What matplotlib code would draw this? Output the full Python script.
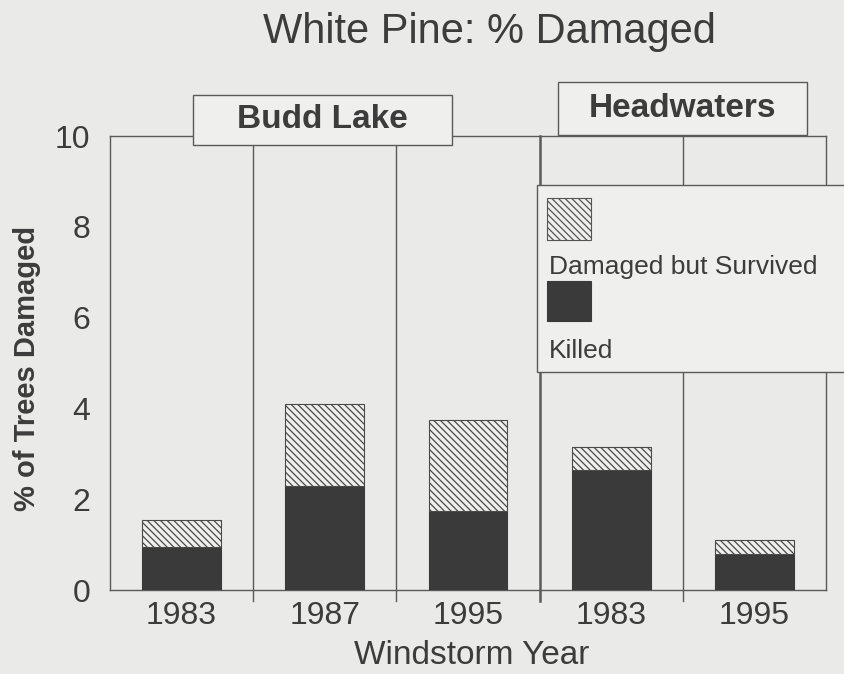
import matplotlib
matplotlib.use("Agg")
import matplotlib.pyplot as plt
from matplotlib.patches import Rectangle

plt.rcParams['font.family'] = ['Liberation Sans', 'DejaVu Sans']
plt.rcParams['hatch.linewidth'] = 0.9

years = ["1983", "1987", "1995", "1983", "1995"]
groups = ["Budd Lake", "Headwaters"]
killed = [0.95, 2.3, 1.75, 2.65, 0.8]
total = [1.55, 4.1, 3.75, 3.15, 1.1]
survived = [t - k for t, k in zip(total, killed)]
yticks = [0, 2, 4, 6, 8, 10]

BG = '#eaeae8'
BOXBG = '#efefed'
DARK = '#3a3a3a'
TXT = '#3c3c3c'
LINE = '#5a5a5a'
HATCH = '\\\\\\\\\\'
W, H = 844.0, 674.0

fig = plt.figure(figsize=(8.44, 6.74), dpi=100, facecolor=BG)
ax = fig.add_axes([110 / W, 1 - 590 / H, (826 - 110) / W, (590 - 136) / H])
ax.set_facecolor(BG)

x = list(range(len(years)))
ax.bar(x, killed, width=0.55, color=DARK, edgecolor=DARK, linewidth=0.8, zorder=3)
ax.bar(x, survived, bottom=killed, width=0.55, color=BOXBG, edgecolor='#4a4a4a',
       hatch=HATCH, linewidth=0.8, zorder=3)

ax.set_xlim(-0.5, len(years) - 0.5)
ax.set_ylim(0, 10)
ax.set_yticks(yticks)
ax.set_yticklabels([str(v) for v in yticks], fontsize=23, color=TXT)
ax.set_xticks(x)
ax.set_xticklabels(years, fontsize=23, color=TXT)
ax.tick_params(axis='y', length=0, pad=14)
ax.tick_params(axis='x', length=0, pad=8)
for s in ax.spines.values():
    s.set_color(LINE)
    s.set_linewidth(1.0)

# panel separators
for i in range(len(years) - 1):
    sep = i + 0.5
    lw = 1.8 if i == 2 else 1.0
    ax.plot([sep, sep], [-0.25, 10], color=LINE, lw=lw, clip_on=False, zorder=2)

fig.text(27 / W, 1 - 368 / H, "% of Trees Damaged", fontsize=21, fontweight='bold',
         color=TXT, rotation=90, ha='center', va='center')
fig.text(472 / W, 1 - 664 / H, "Windstorm Year", fontsize=24, color=TXT,
         ha='center', va='baseline')
fig.text(489 / W, 1 - 43 / H, "White Pine: % Damaged", fontsize=30, color=TXT,
         ha='center', va='baseline')

# group label boxes (figure coords)
def group_box(x0, x1, ytop, ybot, label):
    r = Rectangle((x0 / W, 1 - ybot / H), (x1 - x0) / W, (ybot - ytop) / H,
                  transform=fig.transFigure, facecolor=BOXBG, edgecolor=LINE,
                  linewidth=1.0, zorder=10)
    fig.add_artist(r)
    fig.text((x0 + x1) / 2 / W, 1 - (ytop + ybot) / 2 / H, label, fontsize=24,
             fontweight='bold', color=TXT, ha='center', va='center', zorder=11)

group_box(193, 452, 95, 145, groups[0])
group_box(558, 807, 82, 135, groups[1])

# legend panel
fig.add_artist(Rectangle((537 / W, 1 - 372 / H), 320 / W, 187 / H, transform=fig.transFigure,
                         facecolor=BOXBG, edgecolor=LINE, linewidth=1.0, zorder=10))
fig.add_artist(Rectangle((547 / W, 1 - 240 / H), 44 / W, 42 / H, transform=fig.transFigure,
                         facecolor=BOXBG, edgecolor='#555555', hatch=HATCH,
                         linewidth=0.8, zorder=11))
fig.text(549 / W, 1 - 274 / H, "Damaged but Survived", fontsize=19, color=TXT,
         ha='left', va='baseline', zorder=12)
fig.add_artist(Rectangle((547 / W, 1 - 321 / H), 44 / W, 40 / H, transform=fig.transFigure,
                         facecolor=DARK, edgecolor=DARK, linewidth=0.8, zorder=11))
fig.text(549 / W, 1 - 358 / H, "Killed", fontsize=19, color=TXT,
         ha='left', va='baseline', zorder=12)

fig.savefig("out.png", dpi=100, facecolor=BG)
